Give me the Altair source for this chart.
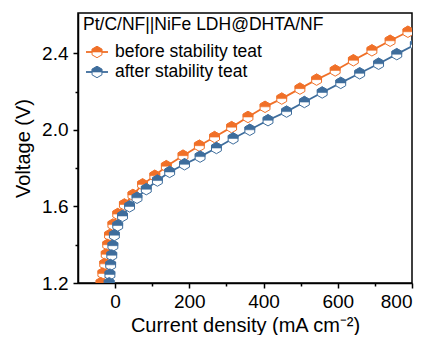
import altair as alt
import pandas as pd

# ---- data ----
before_current = [-38, -33, -28, -24, -20, -15, -6, 7, 25, 48, 74, 107, 138, 183, 227, 268,
                  314, 358, 404, 449, 498, 543, 593, 642, 692, 741, 789]
before_voltage = [1.20, 1.25, 1.30, 1.35, 1.40, 1.45, 1.505, 1.56, 1.61, 1.66, 1.715, 1.76, 1.81,
                  1.865, 1.917, 1.962, 2.014, 2.067, 2.12, 2.163, 2.215, 2.262, 2.31, 2.363,
                  2.415, 2.465, 2.512]
after_current = [-16, -14, -12, -9, -6, -2, 7, 20, 39, 59, 84, 114, 147, 187, 229, 273, 318,
                 363, 412, 462, 510, 558, 608, 659, 710, 759, 809]
after_voltage = [1.20, 1.245, 1.295, 1.345, 1.395, 1.45, 1.50, 1.55, 1.60, 1.645, 1.69, 1.735,
                 1.78, 1.82, 1.86, 1.905, 1.955, 2.0, 2.05, 2.095, 2.145, 2.195, 2.245, 2.295,
                 2.345, 2.395, 2.445]

series_names = ["before stability teat", "after stability teat"]
series_colors = ["#F07028", "#3E6D9C"]
legend_title = "Pt/C/NF||NiFe LDH@DHTA/NF"
x_ticks = [0, 200, 400, 600, 800]
x_minor = [100, 300, 500, 700]
y_ticks = [1.2, 1.6, 2.0, 2.4]
y_minor = [1.4, 1.8, 2.2]

FONT = "Liberation Sans"
HEX = "M0,-1L0.866,-0.5L0.866,0.5L0,1L-0.866,0.5L-0.866,-0.5Z"
TOP = "M-0.866,0L-0.866,-0.5L0,-1L0.866,-0.5L0.866,0Z"
MSIZE = 130

frames = []
for name, cur, vol in [(series_names[0], before_current, before_voltage),
                       (series_names[1], after_current, after_voltage)]:
    frames.append(pd.DataFrame({"series": name, "current": cur, "voltage": vol,
                                "idx": range(len(cur))}))

xscale = alt.Scale(domain=[-100, 800], nice=False, zero=False)
yscale = alt.Scale(domain=[1.2, 2.61], nice=False, zero=False)
cscale = alt.Scale(domain=series_names, range=series_colors)

x_axis = alt.Axis(values=x_ticks, format="d", tickSize=5, tickWidth=1.5, domainWidth=1.5,
                  domainColor="black", tickColor="black", labelFontSize=19, titleFontSize=20,
                  labelFont=FONT, titleFont=FONT, labelColor="black", titleColor="black",
                  titleFontWeight="normal", grid=False, labelPadding=4, titlePadding=4,
                  orient="bottom")
y_axis = alt.Axis(values=y_ticks, format=".1f", tickSize=5, tickWidth=1.5, domainWidth=1.5,
                  domainColor="black", tickColor="black", labelFontSize=19, titleFontSize=20,
                  labelFont=FONT, titleFont=FONT, labelColor="black", titleColor="black",
                  titleFontWeight="normal", grid=False, labelPadding=5, titlePadding=8,
                  orient="left")

layers = []
for i, df in enumerate(frames):
    base = alt.Chart(df)
    X = alt.X("current:Q", scale=xscale, axis=x_axis, title="Current density (mA cm⁻²)")
    Y = alt.Y("voltage:Q", scale=yscale, axis=y_axis, title="Voltage (V)")
    line = base.mark_line(strokeWidth=1.8, clip=True).encode(
        x=X, y=Y, order="idx:Q",
        color=alt.Color("series:N", scale=cscale, legend=None))
    outline = base.mark_point(shape=HEX, size=MSIZE, filled=True, fill="white",
                              strokeWidth=1, opacity=1, clip=True).encode(
        x=X, y=Y, stroke=alt.Stroke("series:N", scale=cscale, legend=None))
    top = base.mark_point(shape=TOP, size=MSIZE, filled=True, strokeWidth=0.6, opacity=1,
                          clip=True).encode(
        x=X, y=Y, fill=alt.Fill("series:N", scale=cscale, legend=None),
        stroke=alt.Stroke("series:N", scale=cscale, legend=None))
    layers += [line, outline, top]

main = alt.layer(*layers)

minor_df = pd.concat(frames)
minor = alt.Chart(minor_df).mark_point(opacity=0).encode(
    x=alt.X("current:Q", scale=xscale, title=None,
            axis=alt.Axis(values=x_minor, labels=False, tickSize=3, tickWidth=1.5,
                          tickColor="black", domain=False, grid=False, orient="bottom")),
    y=alt.Y("voltage:Q", scale=yscale, title=None,
            axis=alt.Axis(values=y_minor, labels=False, tickSize=3, tickWidth=1.5,
                          tickColor="black", domain=False, grid=False, orient="left")),
)

# ---- legend (drawn inside plot, top-left) ----
LFS = 17.5
leg_layers = []
title_df = pd.DataFrame({"t": [legend_title]})
leg_layers.append(alt.Chart(title_df).mark_text(align="left", baseline="middle", fontSize=LFS,
                                                 font=FONT, color="black").encode(
    x=alt.value(5), y=alt.value(12), text="t:N"))
for name, color, ypix in zip(series_names, series_colors, [39, 59]):
    ldf = pd.DataFrame({"label": [name]})
    lb = alt.Chart(ldf)
    leg_layers.append(lb.mark_rule(color=color, strokeWidth=1.8).encode(
        x=alt.value(8), x2=alt.value(30), y=alt.value(ypix)))
    leg_layers.append(lb.mark_point(shape=HEX, size=MSIZE, filled=True, fill="white",
                                    stroke=color, strokeWidth=1, opacity=1).encode(
        x=alt.value(19), y=alt.value(ypix)))
    leg_layers.append(lb.mark_point(shape=TOP, size=MSIZE, filled=True, fill=color,
                                    stroke=color, strokeWidth=0.6, opacity=1).encode(
        x=alt.value(19), y=alt.value(ypix)))
    leg_layers.append(lb.mark_text(align="left", baseline="middle", fontSize=LFS, font=FONT,
                                   color="black").encode(
        x=alt.value(37), y=alt.value(ypix), text="label:N"))

chart = alt.layer(main, minor, *leg_layers).resolve_axis(
    x="independent", y="independent"
).properties(
    width=334, height=270,
    autosize=alt.AutoSizeParams(type="none"),
    padding={"left": 70, "top": 5, "right": 12, "bottom": 52},
).configure_view(stroke="black", strokeWidth=1.5)

chart.save("out.html", embed_options={"renderer": "svg", "actions": False})
